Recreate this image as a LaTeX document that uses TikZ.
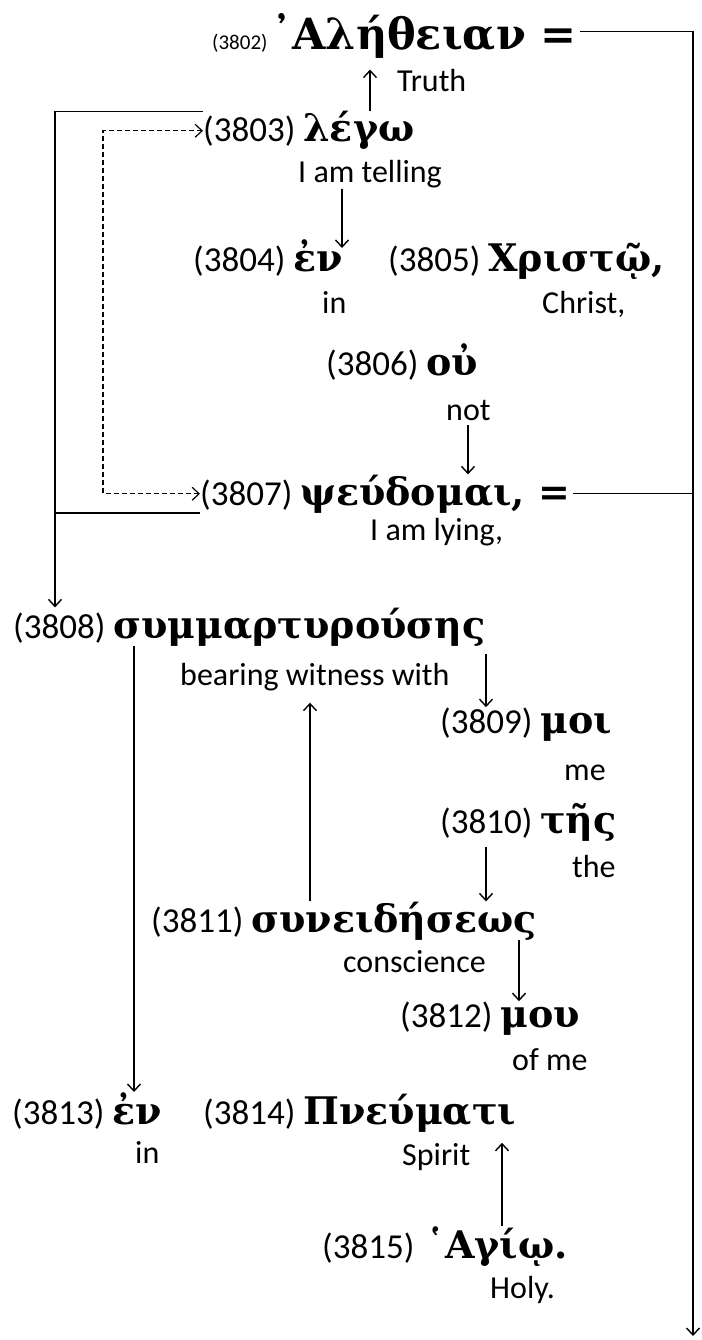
\documentclass[tikz,border=0pt]{standalone}
\usepackage{fontspec}
\setmainfont{Carlito}
\newfontfamily\grkfont{DejaVu Serif}
\usetikzlibrary{arrows.meta}

\newcommand{\gw}[1]{{\grkfont\bfseries\fontsize{38}{42}\selectfont #1}}
\newcommand{\gwbig}[1]{{\grkfont\bfseries\fontsize{43}{46}\selectfont #1}}

\begin{document}
\begin{tikzpicture}[x=1pt, y=-1pt,
  every node/.style={inner sep=0pt, anchor=base west, font=\fontsize{35}{40}\selectfont},
  gloss/.style={font=\fontsize{32}{36}\selectfont},
  link/.style={line width=1.4pt, -{Straight Barb[length=7pt,width=13pt]}},
  plain/.style={line width=1.4pt},
  dashlink/.style={line width=1.2pt, dash pattern=on 5pt off 3pt,
    {Straight Barb[length=7pt,width=13pt]}-{Straight Barb[length=7pt,width=13pt]}}
  ]
  \useasboundingbox (0,0) rectangle (701,1340);

  % words and glosses
  \node (n3802) at (212,50) {\fontsize{21}{24}\selectfont(3802)\,\gwbig{᾿Αλήθειαν =}};
  \node[gloss] (truth) at (397,92) {Truth};
  \node (n3803) at (203,142) {(3803) \gw{λέγω}};
  \node[gloss] (tell) at (298,183) {I am telling};
  \node (n3804) at (193,272) {(3804) \gw{ἐν}};
  \node (n3805) at (388,272) {(3805) \gw{Χριστῷ,}};
  \node[gloss] (in1) at (322,313) {in};
  \node[gloss] (christ) at (542,313) {Christ,};
  \node (n3806) at (326,375) {(3806) \gw{οὐ}};
  \node[gloss] (not) at (446,420) {not};
  \node (n3807) at (200,505) {(3807) \gw{ψεύδομαι, =}};
  \node[gloss] (lying) at (370,540) {I am lying,};
  \node (n3808) at (13,638) {(3808) \gw{συμμαρτυρούσης}};
  \node[gloss] (witness) at (180,685) {bearing witness with};
  \node (n3809) at (440,733) {(3809) \gw{μοι}};
  \node[gloss] (me) at (564,780) {me};
  \node (n3810) at (440,833) {(3810) \gw{τῆς}};
  \node[gloss] (the) at (572,877) {the};
  \node (n3811) at (151,932) {(3811) \gw{συνειδήσεως}};
  \node[gloss] (consc) at (343,972) {conscience};
  \node (n3812) at (400,1027) {(3812) \gw{μου}};
  \node[gloss] (ofme) at (512,1070) {of me};
  \node (n3813) at (12,1124) {(3813) \gw{ἐν}};
  \node (n3814) at (203,1124) {(3814) \gw{Πνεύματι}};
  \node[gloss] (in2) at (135,1163) {in};
  \node[gloss] (spirit) at (402,1165) {Spirit};
  \node (n3815) at (322,1258) {(3815)\hspace{12pt}\gw{῾Αγίῳ.}};
  \node[gloss] (holy) at (490,1298) {Holy.};

  % columns of the connectors
  \coordinate (lft) at (55,0);
  \coordinate (dsh) at (103,300);
  \coordinate (rgt) at (693,1336);
  \coordinate (c1) at (370,0);
  \coordinate (c2) at (342,0);
  \coordinate (c3) at (468,0);
  \coordinate (c4) at (486,0);
  \coordinate (c5) at (310,0);
  \coordinate (c6) at (134,0);
  \coordinate (c7) at (519,0);
  \coordinate (c8) at (502,0);

  % equals lines to the right
  \draw[link] ([xshift=3pt,yshift=5pt]n3802.east) -| (rgt);
  \draw[plain] ([xshift=3pt]n3807.east) -- (n3807.east -| rgt);

  % lines on the left
  \draw[link] (n3803.north west) -| (lft |- n3808.north);
  \draw[plain] (n3807.south west) -- (n3807.south west -| lft);
  \draw[dashlink] (n3803.west) -| (dsh) |- (n3807.west);

  % arrows
  \draw[link] (n3803.north -| c1) -- (truth.north -| c1);
  \draw[link, shorten >=-8pt] (tell.south -| c2) -- (n3804.north -| c2);
  \draw[link, shorten <=5pt] (not.south -| c3) -- (n3807.north -| c3);
  \draw[link, shorten <=8pt] (n3808.south -| c4) -- (n3809.north -| c4);
  \draw[link, shorten <=6pt] (n3810.south -| c4) -- (n3811.north -| c4);
  \draw[link, shorten >=12pt] (n3811.north -| c5) -- (witness.south -| c5);
  \draw[link] (n3808.south -| c6) -- (n3813.north -| c6);
  \draw[link] (n3811.south -| c7) -- (n3812.north -| c7);
  \draw[link] (n3815.north -| c8) -- (spirit.north -| c8);
\end{tikzpicture}
\end{document}
